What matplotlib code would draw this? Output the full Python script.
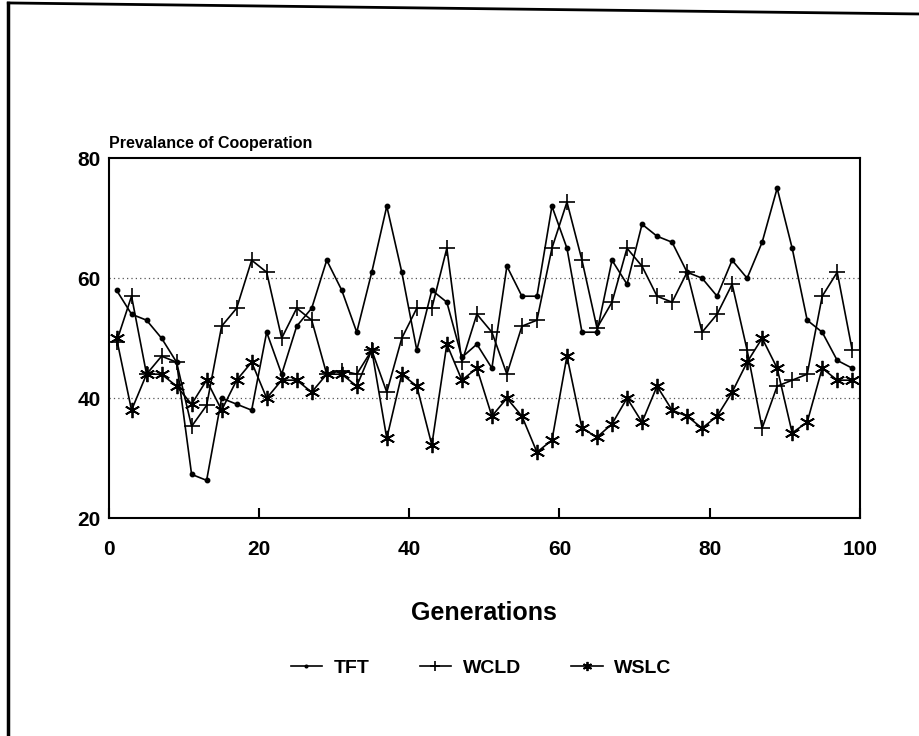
import matplotlib
matplotlib.use("Agg")
import matplotlib.pyplot as plt
from matplotlib.lines import Line2D

plt.rcParams['font.family'] = ['Liberation Sans', 'DejaVu Sans']

generations = list(range(1, 100, 2))

tft = [58, 54, 53, 50, 46, 27.3, 26.3, 40, 39, 38,
       51, 44, 52, 55, 63, 58, 51, 61, 72, 61,
       48, 58, 56, 46.8, 49, 45, 62, 57, 57, 72,
       65, 51, 51, 63, 59, 69, 67, 66, 61, 60,
       57, 63, 60, 66, 75, 65, 53, 51, 46.3, 45]

wcld = [49.4, 57, 44, 47, 46, 35.3, 38.8, 52, 55, 63,
        61, 50, 55, 53, 44, 44.6, 44, 48, 41, 50,
        55, 55, 65, 46, 54, 51, 44, 52, 53, 65,
        72.7, 63, 51.7, 56, 65, 62, 57, 56, 61, 51,
        54, 59, 48, 35, 42, 43, 44, 57, 61, 48]

wslc = [50, 38, 44, 44, 42, 39, 43, 38, 43, 46,
        40, 43, 43, 41, 44, 44, 42, 48, 33.3, 44,
        42, 32.2, 49, 43, 45, 37, 40, 37, 31, 33,
        47, 35, 33.5, 35.7, 40, 36, 42, 38, 37, 35,
        37, 41, 46, 50, 45, 34.2, 36, 45, 43, 43]

x_ticks = [0, 20, 40, 60, 80, 100]
y_ticks = [20, 40, 60, 80]

fig = plt.figure(figsize=(9.2, 7.36), dpi=100)
ax = fig.add_axes([0.1185, 0.296, 0.816, 0.489])

ax.plot(generations, tft, color='black', lw=1.2, marker='o', ms=3.2, label='TFT')
ax.plot(generations, wcld, color='black', lw=1.2, marker='+', ms=12, mew=1.2, label='WCLD')
ax.plot(generations, wslc, color='black', lw=1.2, marker=(6, 2, 0), ms=11, mew=1.3, label='WSLC')

ax.set_xlim(0, 100)
ax.set_ylim(20, 80)
ax.set_xticks(x_ticks)
ax.set_yticks(y_ticks)
ax.tick_params(axis='x', direction='in', length=7, width=1.5, pad=16, labelsize=15)
ax.tick_params(axis='y', length=0, pad=6, labelsize=15)
for lab in ax.get_xticklabels() + ax.get_yticklabels():
    lab.set_fontweight('bold')
for y in [40, 60]:
    ax.axhline(y, color='#555555', lw=0.9, ls=(0, (1, 2.5)), zorder=0)
for s in ax.spines.values():
    s.set_linewidth(1.5)

ax.set_xlabel('Generations', fontsize=18, fontweight='bold', labelpad=30)
ax.text(0, 1.02, 'Prevalance of Cooperation', transform=ax.transAxes,
        fontsize=11.5, fontweight='bold', ha='left', va='bottom')

fig.legend(loc='center', bbox_to_anchor=(0.523, 0.0924), ncol=3, frameon=False,
           handlelength=1.6, columnspacing=2.6, handletextpad=0.6,
           prop={'weight': 'bold', 'size': 14}, markerscale=0.6)

# scanned page border
fig.add_artist(Line2D([0.009, 0.009], [0.0, 0.996], color='black', lw=2.5))
fig.add_artist(Line2D([0.009, 1.0], [0.996, 0.981], color='black', lw=2.0))

fig.savefig('out.png', dpi=100)
